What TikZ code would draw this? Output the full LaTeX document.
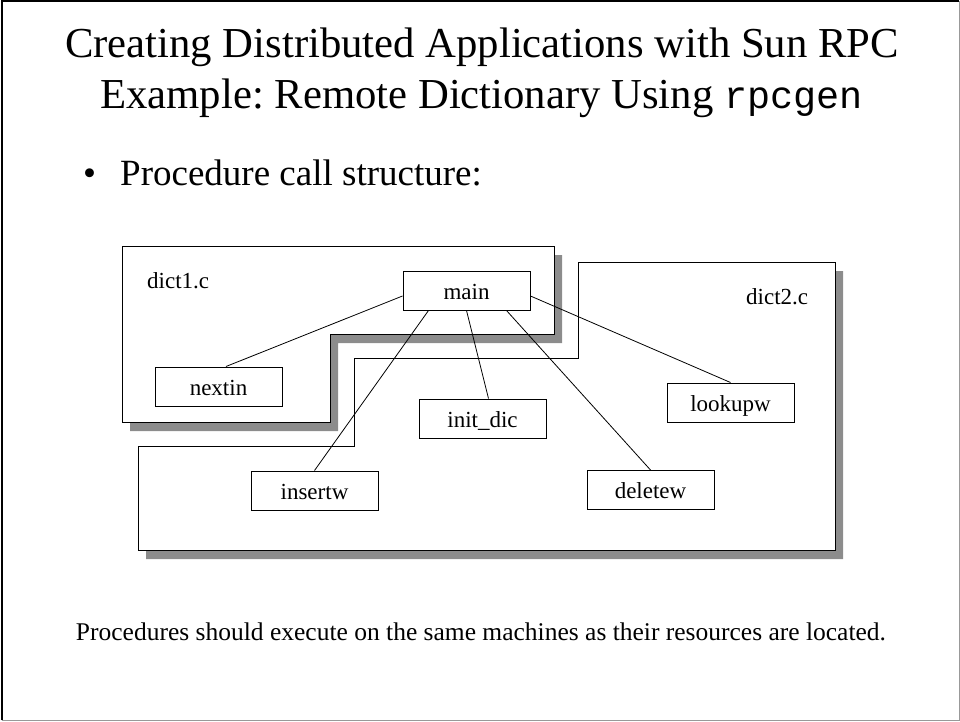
\documentclass[tikz,border=0pt]{standalone}
\usepackage{fontspec}
\setmainfont{Liberation Serif}
\setmonofont{Liberation Mono}
\frenchspacing
\begin{document}
\begin{tikzpicture}[x=1pt, y=-1pt,
    proc/.style={rectangle, draw, line width=1pt, fill=white, minimum width=127pt, minimum height=39pt, inner sep=0pt, text height=17pt, text depth=0pt, font=\fontsize{23}{27}\selectfont},
    file/.style={draw, line width=1pt, fill=white},
    shade/.style={fill=black!45},
    call/.style={line width=0.8pt},
    filelabel/.style={anchor=base west, inner sep=0pt, font=\fontsize{23}{27}\selectfont},
    heading/.style={anchor=base, inner sep=0pt, font=\fontsize{42.7}{50}\selectfont},
    bodytext/.style={anchor=base west, inner sep=0pt, font=\fontsize{37}{44}\selectfont}
]
    \useasboundingbox (0,0) rectangle (960,721);

    % Slide frame
    \draw[line width=2pt] (1.5,720) -- (1.5,1) -- (959,1);
    \draw[line width=1pt, black!40] (1.5,720) -- (959,720) -- (959,1);

    % Title
    \node[heading] (title1) at (482,57) {Creating Distributed Applications with Sun RPC};
    \node[heading] (title2) at (481.5,108) {Example: Remote Dictionary Using {\fontsize{38.5}{46}\ttfamily rpcgen}};

    % Bullet
    \node[bodytext] (bullet) at (83,185) {\textbullet};
    \node[bodytext] (point) at (120,185) {Procedure call structure:};

    % Files
    \fill[shade, shift={(8,9)}] (122,246) -- (554,246) -- (554,334) -- (330,334) -- (330,422) -- (122,422) -- cycle;
    \draw[file] (122,246) -- (554,246) -- (554,334) -- (330,334) -- (330,422) -- (122,422) -- cycle;
    \fill[shade, shift={(8,9)}] (578,262) -- (835,262) -- (835,550) -- (138,550) -- (138,446) -- (354,446) -- (354,358) -- (578,358) -- cycle;
    \draw[file] (578,262) -- (835,262) -- (835,550) -- (138,550) -- (138,446) -- (354,446) -- (354,358) -- (578,358) -- cycle;
    \node[filelabel] (dict1) at (147,288) {dict1.c};
    \node[filelabel] (dict2) at (746,304) {dict2.c};

    % Procedures
    \node[proc] (main) at (466.5,290.5) {main};
    \node[proc] (nextin) at (218.5,386.5) {nextin};
    \node[proc] (initdic) at (482.5,418.5) {init\_dic};
    \node[proc] (lookupw) at (730.5,402.5) {lookupw};
    \node[proc] (insertw) at (314.5,490.5) {insertw};
    \node[proc] (deletew) at (650.5,490) {deletew};

    % Calls
    \draw[call] ([yshift=-5.5pt]main.west) -- ([xshift=7.5pt]nextin.north);
    \draw[call] ([xshift=-38pt]main.south) -- (insertw.north);
    \draw[call] (main.south) -- ([xshift=6pt]initdic.north);
    \draw[call] ([xshift=40pt]main.south) -- (deletew.north);
    \draw[call] ([yshift=-5.5pt]main.east) -- (lookupw.north);

    % Note
    \node[anchor=base, inner sep=0pt, font=\fontsize{25.5}{30}\selectfont] (note) at (481,640) {Procedures should execute on the same machines as their resources are located.};
\end{tikzpicture}
\end{document}
